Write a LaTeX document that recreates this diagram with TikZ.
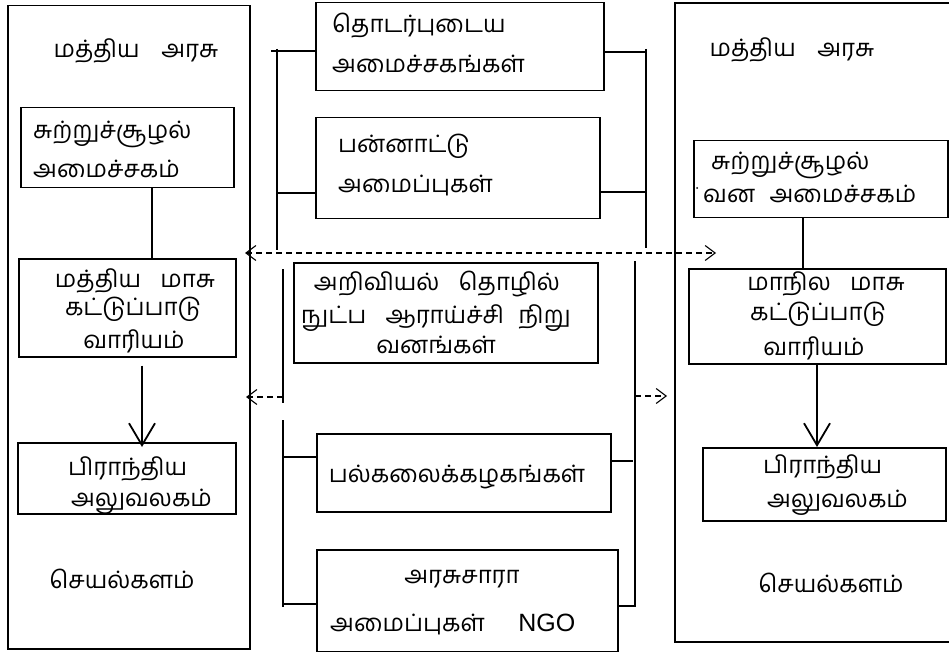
\documentclass[tikz,border=0pt]{standalone}
\usepackage{fontspec}
\newfontfamily\tamil[Script=Tamil]{Hind Madurai}
\newfontfamily\latn{Liberation Sans}
\usetikzlibrary{arrows.meta,calc}
\begin{document}
\begin{tikzpicture}[x=1pt,y=-1pt,
  box/.style={draw, line width=1.5pt, inner sep=0pt, anchor=north west},
  lw/.style={line width=1.5pt},
  tl/.style={inner sep=0pt, anchor=base west, font=\tamil\fontsize{24}{28}\selectfont},
  tc/.style={inner sep=0pt, anchor=base, font=\tamil\fontsize{24}{28}\selectfont},
  arr/.style={line width=1.8pt, -{Straight Barb[length=22pt,width=26pt,line width=1.8pt]}},
  darr/.style={line width=1.1pt, dash pattern=on 6pt off 4pt}]
\useasboundingbox (0,0) rectangle (949,652);
\fill[white] (0,0) rectangle (949,652);
% left panel
\node[box, minimum width=242pt, minimum height=643pt] (LO) at (7,5) {};
\node[tc] (lh) at (136,58) {மத்திய\hspace{0.9em}அரசு};
\node[box, minimum width=213pt, minimum height=80pt] (L1) at (20,107) {};
\node[tl] (l1a) at (33,139) {சுற்றுச்சூழல்};
\node[tl] (l1b) at (33,178) {அமைச்சகம்};
\node[box, minimum width=217pt, minimum height=98pt] (L2) at (18,258) {};
\node[tc] (l2a) at (135,287) {மத்திய\hspace{0.8em}மாசு};
\node[tc] (l2b) at (133,315) {கட்டுப்பாடு};
\node[tc] (l2c) at (134,348) {வாரியம்};
\node[box, minimum width=218pt, minimum height=71pt] (L3) at (17,442) {};
\node[tl] (l3a) at (68,475) {பிராந்திய};
\node[tl] (l3b) at (71,506) {அலுவலகம்};
\node[tc] (lf) at (122,588) {செயல்களம்};
% middle
\node[box, minimum width=288pt, minimum height=88pt] (M1) at (315,2) {};
\node[tl] (m1a) at (332,33) {தொடர்புடைய};
\node[tl] (m1b) at (332,73) {அமைச்சகங்கள்};
\node[box, minimum width=284pt, minimum height=101pt] (M2) at (315,117) {};
\node[tl] (m2a) at (338,153) {பன்னாட்டு};
\node[tl] (m2b) at (338,193) {அமைப்புகள்};
\node[box, minimum width=304pt, minimum height=100pt] (M3) at (293,262) {};
\node[tc] (m3a) at (437,290) {அறிவியல்\hspace{0.8em}தொழில்};
\node[tc] (m3b) at (436,323) {நுட்ப\hspace{0.8em}ஆராய்ச்சி\hspace{0.6em}நிறு};
\node[tc] (m3c) at (436,353) {வனங்கள்};
\node[box, minimum width=294pt, minimum height=78pt] (M4) at (316,433) {};
\node[tc] (m4a) at (457,482) {பல்கலைக்கழகங்கள்};
\node[box, minimum width=301pt, minimum height=102pt] (M5) at (316,549) {};
\node[tc] (m5a) at (462,583) {அரசுசாரா};
\node[tl] (m5b) at (330,631) {அமைப்புகள்\hspace{1.4em}{\latn\fontsize{25}{30}\selectfont NGO}};
% right panel
\draw[lw] (952,3) -- (675,3) -- (675,642) -- (952,642);
\node[tc] (rh) at (792,57) {மத்திய\hspace{0.9em}அரசு};
\node[box, minimum width=254pt, minimum height=77pt] (R1) at (693,140) {};
\node[tl] (r1a) at (711,170) {சுற்றுச்சூழல்};
\node[tl] (r1b) at (703,203) {வன\hspace{0.6em}அமைச்சகம்};
\fill (697,188) circle (1pt);
\node[box, minimum width=257pt, minimum height=95pt] (R2) at (688,268) {};
\node[tc] (r2a) at (826,290) {மாநில\hspace{0.8em}மாசு};
\node[tc] (r2b) at (818,320) {கட்டுப்பாடு};
\node[tc] (r2c) at (814,355) {வாரியம்};
\node[box, minimum width=243pt, minimum height=73pt] (R3) at (702,447) {};
\node[tl] (r3a) at (763,473) {பிராந்திய};
\node[tl] (r3b) at (767,507) {அலுவலகம்};
\node[tc] (rf) at (831,592) {செயல்களம்};
% vertical connectors in panels
\coordinate (xa) at (152,0);
\coordinate (xb) at (142,0);
\coordinate (xc) at (803,0);
\coordinate (xd) at (817,0);
\draw[lw] (L1.south -| xa) -- (L2.north -| xa);
\draw[arr] ($(L2.south -| xb)+(0,8)$) -- ($(L3.north -| xb)+(0,5)$);
\draw[lw] (R1.south -| xc) -- (R2.north -| xc);
\draw[arr] (R2.south -| xd) -- (R3.north -| xd);
% upper brackets
\coordinate (b1t) at (277,49);
\coordinate (b1b) at (277,250);
\coordinate (t1) at (271,51);
\coordinate (t2) at (277,193);
\draw[lw] (b1t) -- (b1b);
\draw[lw] (t1) -- (t1 -| M1.west);
\draw[lw] (t2) -- (t2 -| M2.west);
\coordinate (b2t) at (646,49);
\coordinate (b2b) at (646,248);
\coordinate (t3) at (646,52);
\coordinate (t4) at (645,192);
\draw[lw] (b2t) -- (b2b);
\draw[lw] (t3 -| M1.east) -- (t3);
\draw[lw] (t4 -| M2.east) -- (t4);
% upper dashed double arrow
\coordinate (dl) at (245,253);
\coordinate (dr) at (716,253);
\draw[darr, {Straight Barb[length=10pt,width=15pt,line width=1.1pt]}-{Straight Barb[length=10pt,width=15pt,line width=1.1pt]}] (dl) -- (dr);
% lower brackets
\coordinate (c1t) at (283,269);
\coordinate (c1m) at (283,403);
\coordinate (c1n) at (283,420);
\coordinate (c1b) at (283,607);
\draw[lw] (c1t) -- (c1m);
\draw[lw] (c1n) -- (c1b);
\coordinate (u1) at (283,457);
\coordinate (u2) at (283,604);
\draw[lw] (u1) -- (u1 -| M4.west);
\draw[lw] (u2) -- (u2 -| M5.west);
\coordinate (c2t) at (635,261);
\coordinate (c2b) at (635,607);
\draw[lw] (c2t) -- (c2b);
\coordinate (u3) at (633,461);
\coordinate (u4) at (635,606);
\draw[lw] (u3 -| M4.east) -- (u3);
\draw[lw] (u4 -| M5.east) -- (u4);
% lower dashed arrows
\coordinate (e1) at (283,397);
\coordinate (e2) at (246,397);
\coordinate (e3) at (635,396);
\coordinate (e4) at (667,396);
\draw[darr, -{Straight Barb[length=10pt,width=15pt,line width=1.1pt]}] (e1) -- (e2);
\draw[darr, -{Straight Barb[length=10pt,width=15pt,line width=1.1pt]}] (e3) -- (e4);
\end{tikzpicture}
\end{document}
